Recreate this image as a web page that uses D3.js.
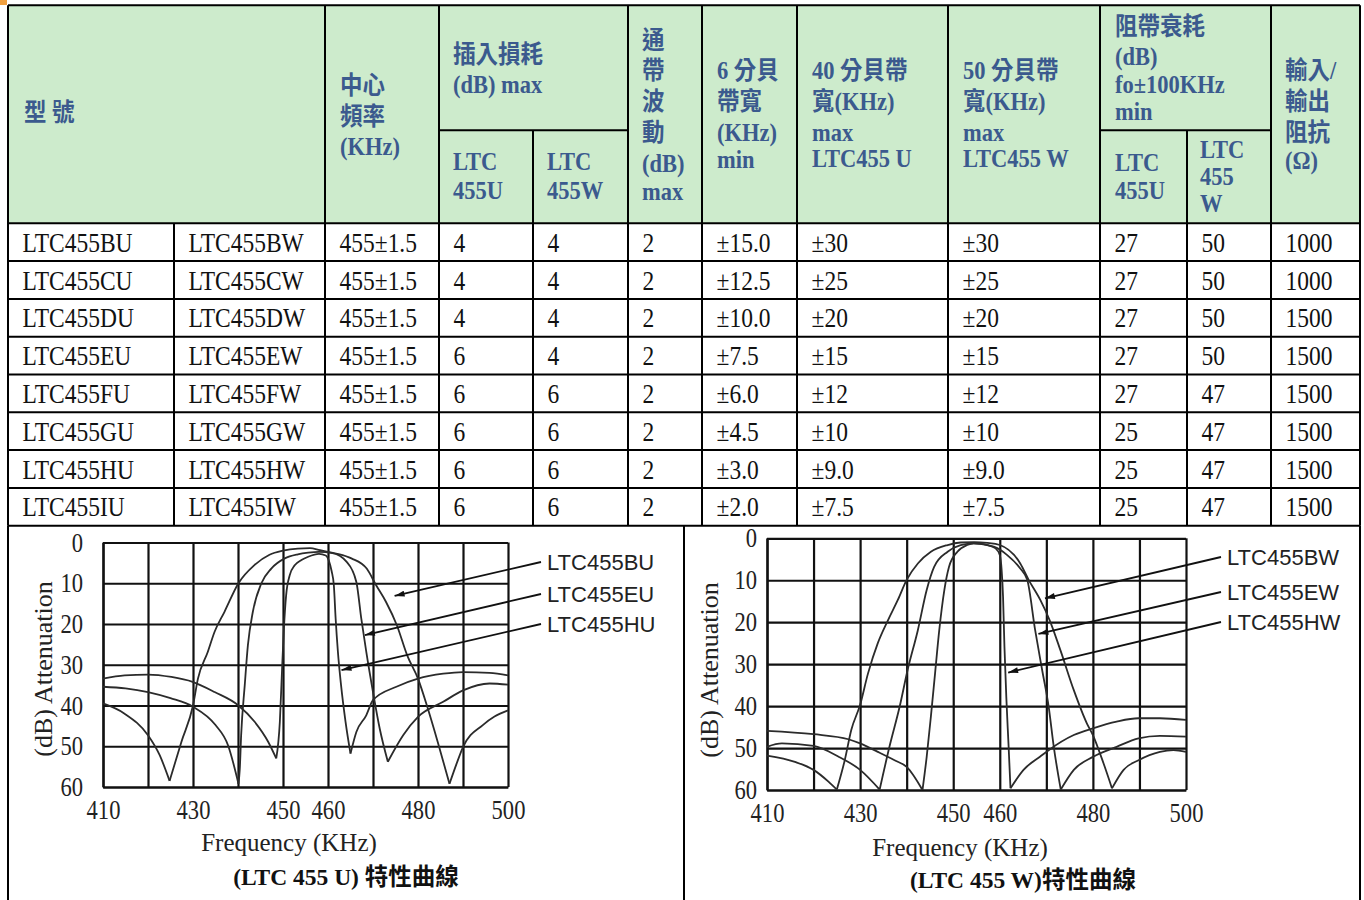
<!DOCTYPE html>
<html><head><meta charset="utf-8">
<script src="https://cdn.jsdelivr.net/npm/d3@7"></script>
<style>body{margin:0;background:#fff}svg{display:block}</style>
</head><body>
<svg id="c" width="1364" height="900"></svg>
<script>
// ---------------- DATA ----------------
const modelsU = ["LTC455BU","LTC455CU","LTC455DU","LTC455EU","LTC455FU","LTC455GU","LTC455HU","LTC455IU"];
const modelsW = ["LTC455BW","LTC455CW","LTC455DW","LTC455EW","LTC455FW","LTC455GW","LTC455HW","LTC455IW"];
const centerFreq = ["455±1.5","455±1.5","455±1.5","455±1.5","455±1.5","455±1.5","455±1.5","455±1.5"];
const insLossU = [4,4,4,6,6,6,6,6];
const insLossW = [4,4,4,4,6,6,6,6];
const ripple = [2,2,2,2,2,2,2,2];
const bw6 = ["±15.0","±12.5","±10.0","±7.5","±6.0","±4.5","±3.0","±2.0"];
const bw40U = ["±30","±25","±20","±15","±12","±10","±9.0","±7.5"];
const bw50W = ["±30","±25","±20","±15","±12","±10","±9.0","±7.5"];
const stopU = [27,27,27,27,27,25,25,25];
const stopW = [50,50,50,50,47,47,47,47];
const impedance = [1000,1000,1500,1500,1500,1500,1500,1500];

const gridFreq = [410,420,430,440,450,460,470,480,490,500];
const freqLabels = [410,430,450,460,480,500];
const dbTicks = [0,10,20,30,40,50,60];

// curves: [freq kHz, attenuation dB], split at the nulls
const curveBU = [
  [[410,39.5],[414.8,42],[420,47.3],[422.6,52.2],[424.8,58.5]],
  [[424.8,58.5],[427.4,49],[430,40],[431.1,33.4],[433.3,26.8],[434.8,21.9],[437,17],[440.1,10],[443.7,5.5],[447,3],[450,2],[453.3,1.5],[456,1.4],[458.2,1.9],[461.8,2.7],[465.2,3.9],[468.6,6.4],[470.7,10.5],[472.9,14.6],[475.3,20.3],[477.6,27.7],[480,33.4],[482.2,40.8],[484.4,49],[487,59.2]],
  [[487,59.2],[488.5,54.5],[490,50.2],[494.4,44.8],[497,42.7],[500,41.2]]
];
const curveEU = [
  [[410,35.4],[415,35.8],[420,36.7],[425,38.2],[430,40.3],[435,44.8],[437.8,49.8],[440.1,59.2]],
  [[440.1,59.2],[440.4,55.5],[440.7,47.3],[441.5,35],[442.2,25.2],[443.3,17],[445.2,10],[447.4,6.4],[450.4,3.9],[453.3,2.9],[455.6,2.5],[458,2.3],[461,2.6],[464.1,4.7],[466.3,9.7],[467.4,18.7],[468.5,26.8],[470,36.7],[471.5,45.7],[473.3,53.8]],
  [[473.3,53.8],[476.7,47.3],[480,42.8],[485.6,39.1],[490,36.3],[495.9,34.6],[500,34.9]]
];
const curveHU = [
  [[410,33.4],[414.8,32.6],[420,32.4],[425.2,33],[429.9,34.2],[434.8,36.7],[440.1,40],[443.7,44],[446.7,48.9],[448.5,53]],
  [[448.5,53],[449.3,44],[449.8,30.9],[450.2,21.1],[450.7,12.9],[451.5,8],[452.6,5.6],[454.1,4.3],[455.6,3.5],[458,2.8],[459.5,3.2],[460.2,4.5],[460.8,7],[461.3,10.5],[461.7,18.7],[462.2,26.8],[462.9,35],[463.9,44],[465,51.8]],
  [[465,51.8],[466.3,46.5],[468.5,42.4],[470,38.7],[475.2,35.4],[480,33.4],[485.6,32.2],[490,31.8],[495.9,32],[500,32.6]]
];
const curveBW = [
  [[410,51.8],[416,53.3],[420,55.2],[423.2,58],[425,59.9]],
  [[425,59.9],[426.7,52.9],[428.1,45.7],[430,39.7],[431.7,32.2],[433.8,25],[436,19.5],[438.1,14.7],[440,9.9],[442.4,6],[445.2,3.2],[448.8,1.6],[451.6,1],[454.5,0.9],[457.3,1.1],[460,1.6],[464.4,6],[466.2,9.9],[468.7,14.7],[470.7,19.5],[473,26.6],[475.9,36.2],[478.7,44.1],[480,46.9],[482.3,53.7],[484.1,59.6]],
  [[484.1,59.6],[486.6,55.2],[489.8,52.9],[494.4,50.9],[497.3,50.5],[500,50.9]]
];
const curveEW = [
  [[410,49.7],[413.2,48.9],[420,49.5],[425.3,52],[430,55.2],[434.2,59.9]],
  [[434.2,59.9],[436.3,49.7],[438.5,40.1],[440.2,31.4],[442.4,21.9],[444.3,12.3],[445.9,6.8],[448.8,3.2],[451.6,1.6],[454.4,1.2],[458.7,2],[461.6,4],[464.4,7.2],[465.9,9.9],[467.6,21.9],[469.1,31.4],[470.5,40.1],[471.6,49.7],[473.1,59.9]],
  [[473.1,59.9],[475.9,55.2],[480,52.1],[485.1,49.7],[489.8,47.7],[494.4,47.1],[500,47.3]]
];
const curveHW = [
  [[410,45.9],[420,46.7],[427.5,47.9],[430,48.9],[433.8,50.9],[437.4,52.9],[440,54.5],[443.4,60]],
  [[443.4,60],[444.3,52.1],[445.2,42.5],[446.1,32.2],[447,21.9],[448.1,12.3],[449.1,6.8],[450.9,3.2],[453,1.6],[454.4,1.2],[457.3,1.6],[459.1,2.4],[460,4],[460.4,7.6],[460.7,13.9],[461,25.8],[461.4,37.8],[461.9,49.7],[462.3,59.6]],
  [[462.3,59.6],[465.1,55.2],[468.7,52],[470.5,50.5],[475.9,46.9],[480,45.3],[485.1,43.7],[489.8,42.9],[494.4,42.9],[500,43.3]]
];
const uLabels = ["LTC455BU","LTC455EU","LTC455HU"];
const uArrowTips = [[474.8,13.1],[468.2,22.7],[463,31.3]];
const wLabels = ["LTC455BW","LTC455EW","LTC455HW"];
const wArrowTips = [[469.7,14.3],[468.3,22.8],[461.8,32]];

// ---------------- DRAW ----------------
const svg = d3.select("#c");
const HEAD = "#3b5a8e", GREEN = "#cdebcc";
const latin = "'Liberation Serif','Times New Roman',serif";
const mixed = "'Liberation Serif','Noto Sans CJK TC',serif";

svg.append("rect").attr("x",0).attr("y",0).attr("width",7).attr("height",5).attr("fill","#f0a040");

const colEdges = [8,174,325,439,533,628,702,797,948,1100,1187,1271,1360];
const tTop = 5.3, hBot = 223.3, subY = 130.3, rowH = 37.8;
const tBot = hBot + rowH*8;

svg.append("rect").attr("x",8).attr("y",tTop).attr("width",1352).attr("height",hBot-tTop).attr("fill",GREEN);

// header texts
const headerCells = [
  {x:24, lines:[["型 號",113]]},
  {x:340, lines:[["中心",86],["頻率",117],["(KHz)",147]]},
  {x:453, lines:[["插入損耗",55],["(dB) max",85]]},
  {x:453, lines:[["LTC",162],["455U",191]]},
  {x:547, lines:[["LTC",162],["455W",191]]},
  {x:642, lines:[["通",41],["帶",71],["波",102],["動",133],["(dB)",164],["max",192]]},
  {x:717, lines:[["6 分貝",71],["帶寬",102],["(KHz)",133],["min",160]]},
  {x:812, lines:[["40 分貝帶",71],["寬(KHz)",102],["max",133],["LTC455 U",159]]},
  {x:963, lines:[["50 分貝帶",71],["寬(KHz)",102],["max",133],["LTC455 W",159]]},
  {x:1115, lines:[["阻帶衰耗",27],["(dB)",57],["fo±100KHz",85],["min",112]]},
  {x:1115, lines:[["LTC",163],["455U",191]]},
  {x:1200, lines:[["LTC",150],["455",177],["W",204]]},
  {x:1285, lines:[["輸入/",71],["輸出",102],["阻抗",133],["(Ω)",161]]}
];
const hg = svg.append("g");
headerCells.forEach(c => {
  hg.selectAll(null).data(c.lines).enter().append("text")
    .attr("transform", d => `translate(${c.x},${d[1] + 8}) scale(1,1.1)`)
    .attr("font-family", mixed).attr("font-weight","bold").attr("font-size", 22.5)
    .attr("fill", HEAD).text(d => d[0]);
});

// body rows
const columns = [modelsU, modelsW, centerFreq, insLossU, insLossW, ripple, bw6, bw40U, bw50W, stopU, stopW, impedance];
const rows = d3.range(8).map(i => columns.map(c => c[i]));
const rg = svg.append("g").selectAll("g").data(rows).enter().append("g")
  .attr("transform", (d,i) => `translate(0,${hBot + i*rowH})`);
rg.selectAll("text").data(d => d).enter().append("text")
  .attr("transform", (d,j) => `translate(${colEdges[j] + 14.5},28.5) scale(1,1.15)`)
  .attr("font-family", latin).attr("font-size", 23.5).attr("fill","#111")
  .text(d => d);

// table lines
const lines = svg.append("g").attr("stroke","#000").attr("stroke-width",2).attr("fill","none");
function L(x1,y1,x2,y2){ lines.append("line").attr("x1",x1).attr("y1",y1).attr("x2",x2).attr("y2",y2); }
L(8,tTop,1360,tTop);
for (let i=0;i<=8;i++) L(8,hBot+i*rowH,1360,hBot+i*rowH);
colEdges.forEach((x,j) => {
  if (x===174 || x===533 || x===1187) L(x, x===174?hBot:subY, x, tBot);
  else L(x, tTop, x, tBot);
});
L(439,subY,628,subY); L(1100,subY,1271,subY);
L(8,tBot,8,900); L(684,tBot,684,900); L(1360,tBot,1360,900);

// marker
svg.append("defs").append("marker").attr("id","arr").attr("viewBox","0 0 10 6")
  .attr("refX",10).attr("refY",3).attr("markerWidth",11).attr("markerHeight",6)
  .attr("markerUnits","userSpaceOnUse").attr("orient","auto")
  .append("path").attr("d","M0,0L10,3L0,6Z").attr("fill","#111");

function chart(cfg){
  const x = d3.scaleLinear().domain([410,500]).range(cfg.xr);
  const y = d3.scaleLinear().domain([0,60]).range(cfg.yr);
  const g = svg.append("g");
  const h = cfg.yr[1]-cfg.yr[0], w = cfg.xr[1]-cfg.xr[0];
  const ax = g.append("g").attr("transform",`translate(0,${cfg.yr[1]})`)
    .call(d3.axisBottom(x).tickValues(gridFreq).tickSize(-h).tickSizeOuter(0).tickPadding(cfg.xPad)
      .tickFormat(f => freqLabels.includes(f) ? f : ""));
  const ay = g.append("g").attr("transform",`translate(${cfg.xr[0]},0)`)
    .call(d3.axisLeft(y).tickValues(dbTicks).tickSize(-w).tickSizeOuter(0).tickPadding(cfg.yPad));
  [ax,ay].forEach(a => {
    a.selectAll("line,path").attr("stroke","#111").attr("stroke-width",2.2);
    a.selectAll("text").attr("font-family",latin).attr("font-size",24).attr("fill","#222")
      .each(function(){
        const t = d3.select(this);
        const tx = +t.attr("x") || 0, ty = +t.attr("y") || 0;
        t.attr("x",null).attr("y",null).attr("transform",`translate(${tx},${ty}) scale(0.94,1.12)`);
      });
  });
  const line = d3.line().x(d=>x(d[0])).y(d=>y(d[1])).curve(d3.curveMonotoneX);
  cfg.curves.forEach(c => c.forEach(seg => {
    g.append("path").attr("d", line(seg)).attr("fill","none").attr("stroke","#2b2b2b").attr("stroke-width",1.8);
  }));
  cfg.labels.forEach((lab,i) => {
    const ly = cfg.labelY[i];
    g.append("line").attr("x1",cfg.labelX-6).attr("y1",ly).attr("x2",x(cfg.tips[i][0])).attr("y2",y(cfg.tips[i][1]))
      .attr("stroke","#111").attr("stroke-width",1.8).attr("marker-end","url(#arr)");
    g.append("text").attr("x",cfg.labelX).attr("y",ly+8).attr("font-family","'Liberation Sans',Arial,sans-serif")
      .attr("font-size",22).attr("fill","#222").text(lab);
  });
  g.append("text").attr("transform",`translate(${cfg.ylabX},${cfg.ylabY}) rotate(-90)`).attr("text-anchor","middle")
    .attr("font-family",latin).attr("font-size",26).attr("fill","#222").text("(dB) Attenuation");
  g.append("text").attr("x",cfg.xlabX).attr("y",cfg.xlabY).attr("text-anchor","middle")
    .attr("font-family",latin).attr("font-size",25).attr("fill","#222").text("Frequency (KHz)");
  g.append("text").attr("x",cfg.capX).attr("y",cfg.capY).attr("text-anchor","middle")
    .attr("font-family",mixed).attr("font-weight","bold").attr("font-size",23.5).attr("fill","#111").text(cfg.caption);
}

chart({xr:[103,508], yr:[542.5,787], xPad:13, yPad:20,
  curves:[curveBU,curveEU,curveHU], labels:uLabels, tips:uArrowTips, labelX:547, labelY:[562,594,624],
  ylabX:52, ylabY:669, xlabX:289, xlabY:851, capX:346, capY:885, caption:"(LTC 455 U)  特性曲線"});
chart({xr:[767,1186], yr:[538.3,790], xPad:13, yPad:10,
  curves:[curveBW,curveEW,curveHW], labels:wLabels, tips:wArrowTips, labelX:1227, labelY:[557,592,622],
  ylabX:718, ylabY:670, xlabX:960, xlabY:856, capX:1023, capY:888, caption:"(LTC 455 W)特性曲線"});
</script>
</body></html>
